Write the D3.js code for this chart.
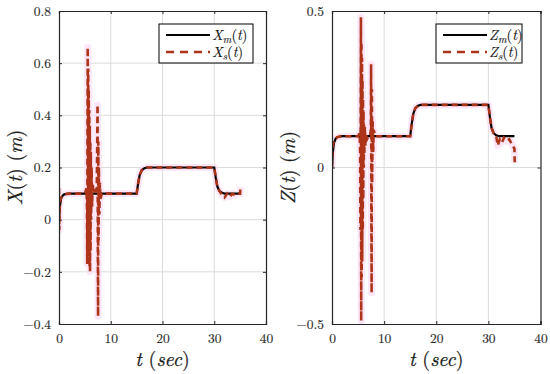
<!DOCTYPE html>
<html><head><meta charset="utf-8">
<script src="https://cdn.jsdelivr.net/npm/d3@7"></script>
<style>body{margin:0;background:#fff}svg{display:block}</style>
</head><body><svg id="c" width="550" height="374"></svg>
<script>
// ---- data ----
const xTicks = [0, 10, 20, 30, 40];
const xTicksY = [-0.4, -0.2, 0, 0.2, 0.4, 0.6, 0.8];
const zTicksY = [-0.5, 0, 0.5];

const tM = [0, 0.2, 0.4, 0.7, 1.0, 1.5, 2, 15, 15.3, 15.6, 16, 16.5, 17, 30, 30.3, 30.6, 31, 31.5, 32, 35];
const xM = [0, 0.055, 0.08, 0.092, 0.097, 0.099, 0.1, 0.1, 0.14, 0.172, 0.19, 0.197, 0.2, 0.2, 0.16, 0.127, 0.11, 0.103, 0.1, 0.1];
const zM = [0, 0.055, 0.08, 0.092, 0.097, 0.099, 0.1, 0.1, 0.14, 0.172, 0.19, 0.197, 0.2, 0.2, 0.16, 0.127, 0.11, 0.103, 0.1, 0.1];

const tXs = [0, 0.05, 0.1, 0.15, 0.25, 0.4, 0.7, 1.0, 1.5, 2, 5.0, 5.3, 5.4, 5.45, 5.5, 5.55, 5.6, 5.65, 5.7, 5.75, 5.8, 5.85, 5.9, 5.95, 6.0, 6.05, 6.1, 6.15, 6.2, 6.3, 6.4, 6.5, 6.7, 7.0, 7.3, 7.45, 7.5, 7.55, 7.6, 7.65, 7.7, 7.8, 7.9, 8.0, 8.3, 9, 15, 15.3, 15.6, 16, 16.5, 17, 30, 30.3, 30.6, 31, 31.5, 32, 32.5, 33, 33.5, 34, 34.5, 35, 35.05];
const xS = [0.12, -0.04, 0.02, 0.06, 0.075, 0.085, 0.092, 0.097, 0.099, 0.1, 0.1, 0.12, 0.05, -0.17, 0.3, 0.66, -0.08, 0.58, -0.14, 0.5, -0.05, 0.42, -0.18, 0.36, -0.2, 0.3, -0.12, 0.26, 0.0, 0.2, 0.05, 0.14, 0.1, 0.11, 0.12, 0.44, -0.1, -0.37, 0.3, -0.08, 0.2, 0.02, 0.14, 0.08, 0.1, 0.1, 0.1, 0.14, 0.172, 0.19, 0.197, 0.2, 0.2, 0.16, 0.127, 0.11, 0.095, 0.085, 0.1, 0.088, 0.1, 0.094, 0.1, 0.1, 0.125];

const tZs = [0, 0.05, 0.1, 0.2, 0.4, 0.7, 1.0, 1.5, 2, 5.0, 5.3, 5.4, 5.45, 5.5, 5.55, 5.6, 5.65, 5.7, 5.75, 5.8, 5.85, 5.9, 5.95, 6.0, 6.05, 6.1, 6.15, 6.2, 6.3, 6.4, 6.5, 6.7, 7.0, 7.3, 7.45, 7.5, 7.55, 7.6, 7.65, 7.7, 7.8, 7.9, 8.0, 8.3, 9, 15, 15.3, 15.6, 16, 16.5, 17, 30, 30.3, 30.6, 31, 31.5, 31.8, 32.2, 32.6, 33, 33.5, 34, 34.5, 35, 35.05];
const zS = [0.0, 0.03, 0.06, 0.075, 0.085, 0.092, 0.097, 0.099, 0.1, 0.1, 0.11, 0.05, -0.2, 0.2, 0.48, -0.49, 0.4, -0.35, 0.35, -0.3, 0.28, -0.2, 0.22, -0.1, 0.18, 0.0, 0.14, 0.04, 0.13, 0.07, 0.11, 0.09, 0.1, 0.1, 0.12, 0.33, -0.15, -0.4, 0.25, -0.05, 0.15, 0.05, 0.12, 0.1, 0.1, 0.1, 0.14, 0.172, 0.19, 0.197, 0.2, 0.2, 0.16, 0.127, 0.11, 0.1, 0.07, 0.09, 0.08, 0.095, 0.085, 0.09, 0.075, 0.06, 0.015];

const panels = [
  {left: 59, right: 266, yDom: [-0.4, 0.8], yTicks: xTicksY, m: xM, s: xS, ts: tXs, lab: "X", legL: 159, legR: 253},
  {left: 332, right: 540.5, yDom: [-0.5, 0.5], yTicks: zTicksY, m: zM, s: zS, ts: tZs, lab: "Z", legL: 436, legR: 522}
];
const yTop = 11, yBot = 324;
const FONT = "Latin Modern Roman, CMU Serif, serif";
const svg = d3.select("#c");
const dashCol = "#ad3418";
const fmt = v => v === 0 ? "0" : d3.format(".1f")(v);

panels.forEach((p, i) => {
  const x = d3.scaleLinear().domain([0, 40]).range([p.left, p.right]);
  const y = d3.scaleLinear().domain(p.yDom).range([yBot, yTop]);
  const g = svg.append("g");
  const cid = "clip" + i;
  svg.append("clipPath").attr("id", cid).append("rect")
    .attr("x", p.left).attr("y", yTop).attr("width", p.right - p.left).attr("height", yBot - yTop);
  // grid
  g.selectAll(".gx").data(xTicks.slice(1, -1)).join("line")
    .attr("x1", d => x(d)).attr("x2", d => x(d)).attr("y1", yTop).attr("y2", yBot)
    .attr("stroke", "#dcdcdc").attr("stroke-width", 1);
  g.selectAll(".gy").data(p.yTicks.slice(1, -1)).join("line")
    .attr("y1", d => y(d)).attr("y2", d => y(d)).attr("x1", p.left).attr("x2", p.right)
    .attr("stroke", "#dcdcdc").attr("stroke-width", 1);
  const pg = g.append("g").attr("clip-path", `url(#${cid})`);
  const lineM = d3.line().x((d, k) => x(tM[k])).y(d => y(d));
  const lineS = d3.line().x((d, k) => x(p.ts[k])).y(d => y(d));
  // halo
  pg.append("path").attr("d", lineS(p.s)).attr("fill", "none")
    .attr("stroke", "#fbdcf4").attr("stroke-width", 7).attr("stroke-linejoin", "round").attr("opacity", 0.7);
  pg.append("path").attr("d", lineM(p.m)).attr("fill", "none")
    .attr("stroke", "#000").attr("stroke-width", 2.2);
  pg.append("path").attr("d", lineS(p.s)).attr("fill", "none")
    .attr("stroke", dashCol).attr("stroke-width", 2.6).attr("stroke-dasharray", "6,4");
  // axes (box with inward ticks)
  const ax = d3.axisBottom(x).tickValues(xTicks).tickSize(-3).tickPadding(9).tickFormat(d3.format("d"));
  const axT = d3.axisTop(x).tickValues(xTicks).tickSize(-3).tickFormat("");
  const ay = d3.axisLeft(y).tickValues(p.yTicks).tickSize(-3).tickPadding(8).tickFormat(fmt);
  const ayR = d3.axisRight(y).tickValues(p.yTicks).tickSize(-3).tickFormat("");
  [[ax, `translate(0,${yBot})`], [axT, `translate(0,${yTop})`], [ay, `translate(${p.left},0)`], [ayR, `translate(${p.right},0)`]].forEach(([a, tr]) => {
    const gg = g.append("g").attr("transform", tr).call(a).attr("font-family", FONT).attr("font-size", 13);
    gg.select(".domain").attr("stroke", "#262626").attr("stroke-width", 1.2);
    gg.selectAll(".tick line").attr("stroke", "#262626");
    gg.selectAll(".tick text").attr("fill", "#2a2a2a").attr("font-family", FONT).attr("font-size", 13.5)
      .attr("stroke", "#2a2a2a").attr("stroke-width", 0.15);
  });
  // axis labels
  const cx = (p.left + p.right) / 2;
  const xl = g.append("text").attr("x", cx).attr("y", 366).attr("text-anchor", "middle")
    .attr("font-family", FONT).attr("font-size", 20).attr("fill", "#1a1a1a")
    .attr("stroke", "#1a1a1a").attr("stroke-width", 0.25);
  xl.append("tspan").attr("font-style", "italic").text("t");
  xl.append("tspan").text(" (");
  xl.append("tspan").attr("font-style", "italic").text("sec");
  xl.append("tspan").text(")");
  const lx = p.left - 37;
  const yl = g.append("text").attr("transform", `translate(${lx},${(yTop + yBot) / 2}) rotate(-90)`)
    .attr("text-anchor", "middle").attr("font-family", FONT).attr("font-size", 20).attr("fill", "#1a1a1a")
    .attr("stroke", "#1a1a1a").attr("stroke-width", 0.25);
  yl.append("tspan").attr("font-style", "italic").text(p.lab);
  yl.append("tspan").text("(");
  yl.append("tspan").attr("font-style", "italic").text("t");
  yl.append("tspan").text(") (");
  yl.append("tspan").attr("font-style", "italic").text("m");
  yl.append("tspan").text(")");
  // legend
  const lg = g.append("g");
  lg.append("rect").attr("x", p.legL).attr("y", 24).attr("width", p.legR - p.legL).attr("height", 39)
    .attr("fill", "#fff").attr("stroke", "#000").attr("stroke-width", 1);
  const lx0 = p.legL + 7, lx1 = p.legL + 51;
  lg.append("line").attr("x1", lx0).attr("x2", lx1).attr("y1", 35).attr("y2", 35)
    .attr("stroke", "#000").attr("stroke-width", 2.2);
  lg.append("line").attr("x1", lx0).attr("x2", lx1).attr("y1", 52).attr("y2", 52)
    .attr("stroke", dashCol).attr("stroke-width", 2.6).attr("stroke-dasharray", "8,6");
  [["m", 40], ["s", 57]].forEach(([sub, yy]) => {
    const t = lg.append("text").attr("x", lx1 + 2).attr("y", yy).attr("font-family", FONT).attr("font-size", 14.5).attr("fill", "#111")
      .attr("stroke", "#111").attr("stroke-width", 0.15);
    t.append("tspan").attr("font-style", "italic").text(p.lab);
    t.append("tspan").attr("font-style", "italic").attr("font-size", 10.5).attr("dy", 2.5).text(sub);
    t.append("tspan").attr("dy", -2.5).text("(");
    t.append("tspan").attr("font-style", "italic").text("t");
    t.append("tspan").text(")");
  });
});
</script></body></html>
